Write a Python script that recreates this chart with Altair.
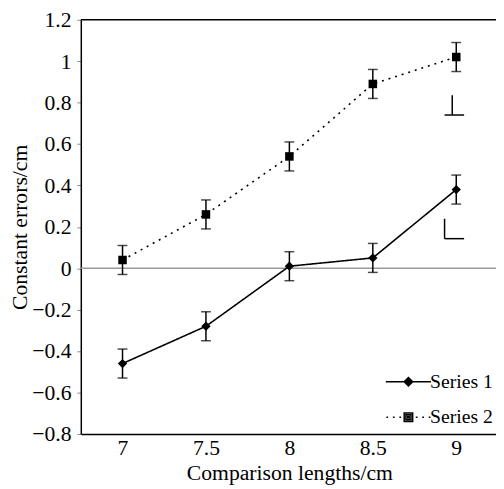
import altair as alt
import pandas as pd

# ---- data ----
lengths = [7, 7.5, 8, 8.5, 9]
series1 = [-0.46, -0.28, 0.01, 0.05, 0.38]
series2 = [0.04, 0.26, 0.54, 0.89, 1.02]
err1 = [0.07, 0.07, 0.07, 0.07, 0.07]
err2 = [0.07, 0.07, 0.07, 0.07, 0.07]
names = ["Series 1", "Series 2"]
y_ticks = [-0.8, -0.6, -0.4, -0.2, 0, 0.2, 0.4, 0.6, 0.8, 1, 1.2]
x_ticks = [7, 7.5, 8, 8.5, 9]

# small stray strokes printed near x = 9 in the original figure
glyph_x = [8.976, 8.93, 8.93, 8.93]
glyph_x2 = [8.976, 9.047, 8.93, 9.047]
glyph_y = [0.835, 0.74, 0.239, 0.143]
glyph_y2 = [0.74, 0.74, 0.143, 0.143]

FONT = "Liberation Serif"

rows = []
for name, vals, errs in [(names[0], series1, err1), (names[1], series2, err2)]:
    for x, v, e in zip(lengths, vals, errs):
        rows.append({"x": x, "v": v, "lo": v - e, "hi": v + e, "series": name})
df = pd.DataFrame(rows)

xs = alt.Scale(domain=[6.75, 9.25], nice=False, zero=False)
ys = alt.Scale(domain=[-0.8, 1.2], nice=False, zero=False)

x_axis = alt.Axis(values=x_ticks, format="~g", labelFont=FONT, labelFontSize=22,
                  labelColor="black", ticks=False, domainColor="black", domainWidth=1.5,
                  grid=False, title="Comparison lengths/cm", titleFont=FONT,
                  titleFontSize=22, titleFontWeight="normal", titleColor="black",
                  labelPadding=4, titlePadding=4)
y_axis = alt.Axis(values=y_ticks, format="~g", labelFont=FONT, labelFontSize=22,
                  labelColor="black", tickColor="#888888", tickSize=4, domainColor="black",
                  domainWidth=1.5, grid=False, title="Constant errors/cm", titleFont=FONT,
                  titleFontSize=22, titleFontWeight="normal", titleColor="black",
                  labelPadding=6, titlePadding=0)


def X(field):
    return alt.X(field, scale=xs, axis=x_axis, title="Comparison lengths/cm")


def Y(field):
    return alt.Y(field, scale=ys, axis=y_axis, title="Constant errors/cm")


base = alt.Chart(df)

zero = alt.Chart(pd.DataFrame({"x": [7], "v": [0]})).mark_rule(
    color="#9a9a9a", strokeWidth=1.5).encode(y=Y("v:Q"))
top = alt.Chart(pd.DataFrame({"x": [7], "v": [1.2]})).mark_rule(
    color="black", strokeWidth=1.5).encode(y=Y("v:Q"))

lines = base.mark_line(color="black", strokeWidth=1.6).encode(
    x=X("x:Q"),
    y=Y("v:Q"),
    detail="series:N",
    strokeDash=alt.StrokeDash("series:N", scale=alt.Scale(domain=names, range=[[1, 0], [2, 5]]),
                              legend=None),
)

stems = base.mark_rule(color="black", strokeWidth=1.5).encode(
    x=X("x:Q"), y=Y("lo:Q"), y2="hi:Q")

caps = base.transform_fold(["lo", "hi"], as_=["end", "ev"]).mark_tick(
    color="black", orient="horizontal", size=10, thickness=1.5).encode(
    x=X("x:Q"), y=Y("ev:Q"))

points = base.mark_point(filled=True, color="black", opacity=1).encode(
    x=X("x:Q"),
    y=Y("v:Q"),
    shape=alt.Shape("series:N", scale=alt.Scale(domain=names, range=["diamond", "square"]),
                    legend=None),
    size=alt.Size("series:O", scale=alt.Scale(domain=names, range=[90, 75]), legend=None),
)

glyphs = alt.Chart(pd.DataFrame({"gx": glyph_x, "gx2": glyph_x2, "gy": glyph_y,
                                 "gy2": glyph_y2})).mark_rule(color="black", strokeWidth=1.5).encode(
    x=X("gx:Q"), x2="gx2:Q", y=Y("gy:Q"), y2="gy2:Q")

# legend symbols: line + marker (marker drawn with nested outlines so it reads as solid)
path1 = ("M-4,0H4"
         "M0,-0.75L0.75,0L0,0.75L-0.75,0Z"
         "M0,-0.45L0.45,0L0,0.45L-0.45,0Z"
         "M0,-0.15L0.15,0L0,0.15L-0.15,0Z")
path2 = ("M-3.9,0H-3.6M-2.75,0H-2.45M-1.6,0H-1.3M1.3,0H1.6M2.45,0H2.75M3.6,0H3.9"
         "M-0.75,-0.75H0.75V0.75H-0.75Z"
         "M-0.45,-0.45H0.45V0.45H-0.45Z"
         "M-0.15,-0.15H0.15V0.15H-0.15Z")
legend_layer = base.transform_filter("false").mark_point(
    filled=False, color="black", strokeWidth=1.5, opacity=1).encode(
    x=X("x:Q"),
    y=Y("v:Q"),
    shape=alt.Shape("series:N", scale=alt.Scale(domain=names, range=[path1, path2]),
                    legend=alt.Legend(title=None, orient="none", legendX=323, legendY=358,
                                      padding=0, labelFont=FONT, labelFontSize=20,
                                      labelColor="black", symbolSize=132,
                                      symbolStrokeWidth=1.5, symbolStrokeColor="black",
                                      labelOffset=12, rowPadding=16)),
)

chart = alt.layer(zero, top, lines, stems, caps, points, glyphs, legend_layer).resolve_scale(
    shape="independent"
).properties(
    width=424, height=421,
    autosize=alt.AutoSizeParams(type="none"),
    padding={"left": 74, "top": 8, "right": -2, "bottom": 52},
).configure_view(strokeWidth=0)

chart.save("out.html", embed_options={"renderer": "svg", "actions": False})
